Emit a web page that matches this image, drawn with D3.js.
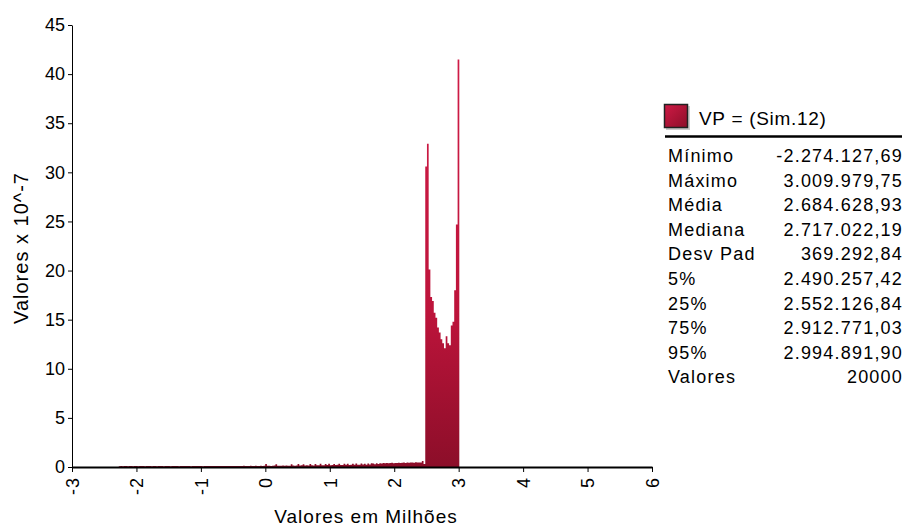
<!DOCTYPE html>
<html>
<head>
<meta charset="utf-8">
<script src="https://cdn.jsdelivr.net/npm/d3@7"></script>
<style>
  body { margin:0; background:#fff; }
  text { font-family: "Liberation Sans", Arial, sans-serif; fill:#000; }
</style>
</head>
<body>
<svg class="chart"></svg>
<script>
// histogram of VP (Sim.12), 200 bins between min and max, density x 10^-7
var tailLeft = [
  0.08,0.09,0.08,0.10,0.09,0.08,0.10,0.09,0.08,0.09,
  0.10,0.08,0.09,0.10,0.09,0.08,0.10,0.09,0.10,0.08,
  0.09,0.10,0.08,0.09,0.10,0.09,0.08,0.10,0.09,0.10,
  0.08,0.09,0.10,0.09,0.10,0.08,0.09,0.10,0.09,0.10,
  0.09,0.10,0.08,0.10,0.09,0.10,0.10,0.09,0.10,0.08,
  0.10,0.09,0.10,0.10,0.09,0.10,0.11,0.09,0.10,0.10,
  0.11,0.09,0.10,0.11,0.10,0.10,0.11,0.10,0.09,0.11,
  0.10,0.11,0.10,0.12,0.10,0.11,0.10,0.12,0.11,0.10,
  0.12,0.11,0.10,0.12,0.11,0.12
];
var tailRight = [
  0.30,0.12,0.14,0.10,0.13,0.15,0.28,0.12,0.14,0.13,
  0.15,0.13,0.16,0.14,0.12,0.28,0.15,0.14,0.16,0.30,
  0.15,0.17,0.29,0.16,0.18,0.15,0.30,0.17,0.16,0.30,
  0.18,0.17,0.32,0.19,0.18,0.30,0.20,0.32,0.19,0.21,
  0.30,0.20,0.22,0.33,0.21,0.20,0.32,0.22,0.34,0.21,
  0.23,0.33,0.22,0.35,0.24,0.23,0.36,0.25,0.34,0.24,
  0.36,0.26,0.38,0.35,0.27,0.37,0.30,0.39,0.36,0.40,
  0.38,0.42,0.37,0.40,0.43,0.39,0.42,0.40,0.44,0.41,
  0.43,0.45,0.42,0.46,0.44,0.47,0.45,0.43,0.48,0.46,
  0.47,0.45,0.60,0.30
];
var peak = [
  30.6,32.9,20.1,17.3,16.9,15.7,15.2,14.2,13.7,13.0,
  12.6,12.1,13.3,12.6,12.4,14.4,14.8,18.0,24.7,41.5
];

var statLabels = ["Mínimo","Máximo","Média","Mediana","Desv Pad","5%","25%","75%","95%","Valores"];
var statValues = ["-2.274.127,69","3.009.979,75","2.684.628,93","2.717.022,19","369.292,84",
                  "2.490.257,42","2.552.126,84","2.912.771,03","2.994.891,90","20000"];

var minVal = -2.27412769, maxVal = 3.00997975;   // em milhões
var xTicks = [-3,-2,-1,0,1,2,3,4,5,6];
var yTicks = [0,5,10,15,20,25,30,35,40,45];

var heights = tailLeft.concat(tailRight).concat(peak);

var screen = { width:906, height:527 };
var margins = { top:25, bottom:60, left:72, right:254 };

var svg = d3.select(".chart")
            .attr("width",screen.width)
            .attr("height",screen.height);

var xScale = d3.scaleLinear()
               .domain([-3,6])
               .range([margins.left, screen.width - margins.right]);
var yScale = d3.scaleLinear()
               .domain([0,45])
               .range([screen.height - margins.bottom, margins.top]);

var binW = (maxVal - minVal) / heights.length;
var bins = heights.map(function(h,i){
  return { x: minVal + i*binW, h: h };
});
// closing point at the right edge of the last bin
bins.push({ x: maxVal, h: heights[heights.length-1] });

// bar gradient
var defs = svg.append("defs");
var grad = defs.append("linearGradient").attr("id","barGrad")
  .attr("gradientUnits","userSpaceOnUse")
  .attr("x1",0).attr("x2",0)
  .attr("y1",yScale(45)).attr("y2",yScale(0));
grad.append("stop").attr("offset","0%").attr("stop-color","#d21c48");
grad.append("stop").attr("offset","65%").attr("stop-color","#bd143b");
grad.append("stop").attr("offset","100%").attr("stop-color","#8c0e29");

var swGrad = defs.append("linearGradient").attr("id","swGrad")
  .attr("x1",0).attr("x2",1).attr("y1",0).attr("y2",1);
swGrad.append("stop").attr("offset","0%").attr("stop-color","#cf1a45");
swGrad.append("stop").attr("offset","100%").attr("stop-color","#8c0e29");

// bars drawn as one stepped area so neighbouring bins have no seams
var drawBars = d3.area()
                 .curve(d3.curveStepAfter)
                 .x(function(d){return xScale(d.x)})
                 .y0(function(d){return yScale(0)})
                 .y1(function(d){return yScale(d.h)});
svg.append("g").attr("class","bars")
   .append("path")
   .datum(bins)
   .attr("d",drawBars)
   .attr("fill","url(#barGrad)");

// axes
var yAxis = d3.axisLeft(yScale).tickValues(yTicks).tickSize(4).tickSizeOuter(0).tickPadding(3);
var yG = svg.append("g").classed("yAxis",true)
   .attr("transform","translate("+margins.left+",0)")
   .call(yAxis);
yG.selectAll("text").style("font-size","18px");

var xAxis = d3.axisBottom(xScale).tickValues(xTicks).tickSize(5).tickSizeOuter(0)
              .tickFormat(function(d){return String(d)});
var xG = svg.append("g").classed("xAxis",true)
   .attr("transform","translate(0,"+(screen.height - margins.bottom)+")")
   .call(xAxis);
xG.select(".domain").attr("stroke-width",2);
xG.selectAll("text")
  .style("font-size","18px")
  .style("letter-spacing","1px")
  .attr("text-anchor","end")
  .attr("transform","rotate(-90)")
  .attr("x",-10).attr("y",0).attr("dy","0.35em");
svg.selectAll(".tick line").attr("stroke","#000");
svg.selectAll(".domain").attr("stroke","#000");
svg.selectAll(".tick text").attr("fill","#000");

// axis titles
svg.append("text")
   .attr("transform","translate(21,248) rotate(-90)")
   .attr("text-anchor","middle")
   .attr("dy","0.35em")
   .style("font-size","20px")
   .style("letter-spacing","1px")
   .text("Valores x 10^-7");

svg.append("text")
   .attr("x",366).attr("y",523)
   .attr("text-anchor","middle")
   .style("font-size","19px")
   .style("letter-spacing","1px")
   .text("Valores em Milhões");

// legend / stats
var leg = svg.append("g").attr("class","legend");
leg.append("rect").attr("x",666).attr("y",106).attr("width",24).attr("height",24)
   .attr("fill","#9a9a9a").attr("opacity",0.5);
leg.append("rect").attr("x",664.5).attr("y",104.5).attr("width",23).attr("height",23)
   .attr("fill","url(#swGrad)").attr("stroke","#222").attr("stroke-width",1.5);
leg.append("text").attr("x",699).attr("y",125)
   .style("font-size","19px").style("letter-spacing","0.7px").text("VP = (Sim.12)");
leg.append("line").attr("x1",665).attr("x2",902).attr("y1",136.5).attr("y2",136.5)
   .attr("stroke","#000").attr("stroke-width",2.5);

leg.selectAll(".lab").data(statLabels).enter().append("text")
   .attr("class","lab")
   .attr("x",668)
   .attr("y",function(d,i){return 162 + i*24.6})
   .style("font-size","18px")
   .style("letter-spacing","1.2px")
   .text(function(d){return d});
leg.selectAll(".val").data(statValues).enter().append("text")
   .attr("class","val")
   .attr("x",903)
   .attr("y",function(d,i){return 162 + i*24.6})
   .attr("text-anchor","end")
   .style("font-size","18px")
   .style("letter-spacing","1.2px")
   .text(function(d){return d});
</script>
</body>
</html>
